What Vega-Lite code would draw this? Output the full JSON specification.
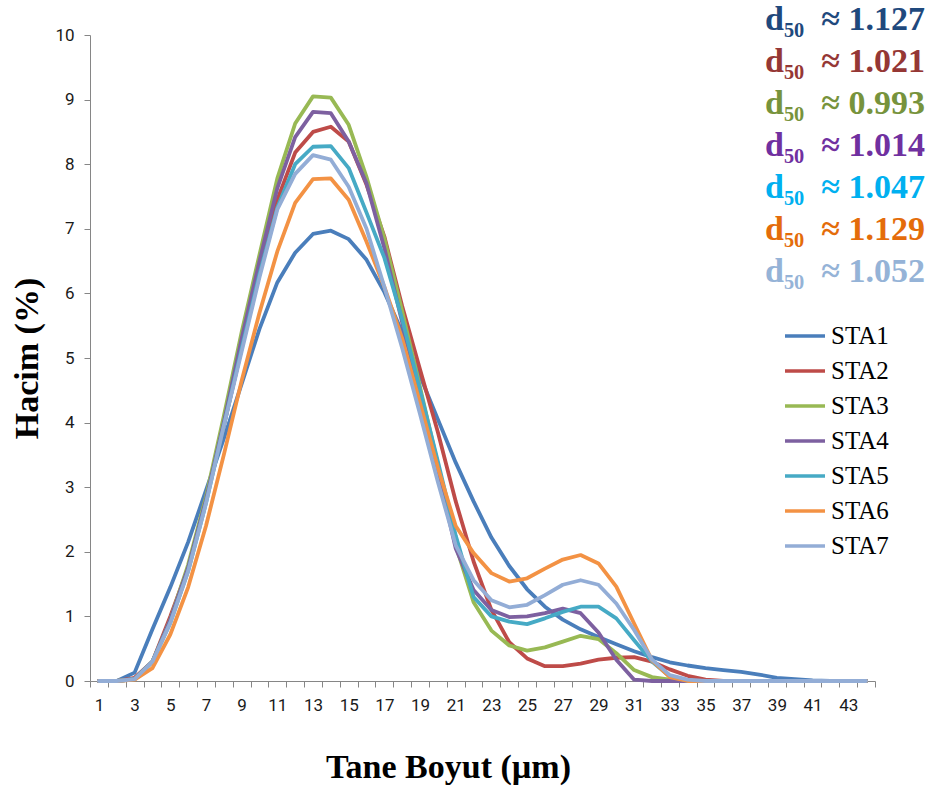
{
  "$schema": "https://vega.github.io/schema/vega-lite/v6.json",
  "width": 785,
  "height": 646,
  "autosize": {"type": "none"},
  "padding": {"left": 90, "top": 35, "right": 69, "bottom": 109},
  "background": "white",
  "config": {
    "view": {"stroke": null},
    "axis": {"grid": false, "domainColor": "#868686", "tickColor": "#868686", "domainWidth": 1, "tickWidth": 1}
  },
  "datasets": {
    "curves": [
      {"size": 1, "STA1": 0, "STA2": 0, "STA3": 0, "STA4": 0, "STA5": 0, "STA6": 0, "STA7": 0},
      {"size": 2, "STA1": 0, "STA2": 0, "STA3": 0, "STA4": 0, "STA5": 0, "STA6": 0, "STA7": 0},
      {"size": 3, "STA1": 0.13, "STA2": 0.05, "STA3": 0.03, "STA4": 0.03, "STA5": 0.03, "STA6": 0.02, "STA7": 0.03},
      {"size": 4, "STA1": 0.8, "STA2": 0.3, "STA3": 0.3, "STA4": 0.3, "STA5": 0.3, "STA6": 0.2, "STA7": 0.3},
      {"size": 5, "STA1": 1.45, "STA2": 1.0, "STA3": 0.95, "STA4": 0.95, "STA5": 0.9, "STA6": 0.72, "STA7": 0.9},
      {"size": 6, "STA1": 2.15, "STA2": 1.75, "STA3": 1.8, "STA4": 1.75, "STA5": 1.7, "STA6": 1.45, "STA7": 1.7},
      {"size": 7, "STA1": 2.95, "STA2": 2.8, "STA3": 2.85, "STA4": 2.8, "STA5": 2.75, "STA6": 2.4, "STA7": 2.75},
      {"size": 8, "STA1": 3.75, "STA2": 3.95, "STA3": 4.1, "STA4": 4.0, "STA5": 3.95, "STA6": 3.5, "STA7": 3.95},
      {"size": 9, "STA1": 4.6, "STA2": 5.15, "STA3": 5.4, "STA4": 5.3, "STA5": 5.15, "STA6": 4.65, "STA7": 5.1},
      {"size": 10, "STA1": 5.45, "STA2": 6.3, "STA3": 6.6, "STA4": 6.5, "STA5": 6.3, "STA6": 5.7, "STA7": 6.25},
      {"size": 11, "STA1": 6.17, "STA2": 7.45, "STA3": 7.78, "STA4": 7.63, "STA5": 7.33, "STA6": 6.65, "STA7": 7.3},
      {"size": 12, "STA1": 6.63, "STA2": 8.18, "STA3": 8.63, "STA4": 8.42, "STA5": 8.0, "STA6": 7.4, "STA7": 7.85},
      {"size": 13, "STA1": 6.92, "STA2": 8.5, "STA3": 9.05, "STA4": 8.81, "STA5": 8.27, "STA6": 7.77, "STA7": 8.14},
      {"size": 14, "STA1": 6.97, "STA2": 8.58, "STA3": 9.03, "STA4": 8.79, "STA5": 8.28, "STA6": 7.78, "STA7": 8.07},
      {"size": 15, "STA1": 6.84, "STA2": 8.35, "STA3": 8.61, "STA4": 8.35, "STA5": 7.94, "STA6": 7.45, "STA7": 7.65},
      {"size": 16, "STA1": 6.52, "STA2": 7.68, "STA3": 7.8, "STA4": 7.7, "STA5": 7.25, "STA6": 6.8, "STA7": 7.0},
      {"size": 17, "STA1": 6.02, "STA2": 6.88, "STA3": 6.85, "STA4": 6.7, "STA5": 6.55, "STA6": 6.1, "STA7": 6.1},
      {"size": 18, "STA1": 5.4, "STA2": 5.8, "STA3": 5.72, "STA4": 5.55, "STA5": 5.6, "STA6": 5.3, "STA7": 5.15},
      {"size": 19, "STA1": 4.72, "STA2": 4.82, "STA3": 4.55, "STA4": 4.4, "STA5": 4.5, "STA6": 4.3, "STA7": 4.13},
      {"size": 20, "STA1": 4.05, "STA2": 3.85, "STA3": 3.35, "STA4": 3.25, "STA5": 3.4, "STA6": 3.3, "STA7": 3.08},
      {"size": 21, "STA1": 3.38, "STA2": 2.78, "STA3": 2.1, "STA4": 2.05, "STA5": 2.25, "STA6": 2.4, "STA7": 2.1},
      {"size": 22, "STA1": 2.78, "STA2": 1.85, "STA3": 1.22, "STA4": 1.41, "STA5": 1.3, "STA6": 1.98, "STA7": 1.56},
      {"size": 23, "STA1": 2.22, "STA2": 1.1, "STA3": 0.78, "STA4": 1.1, "STA5": 1.0, "STA6": 1.67, "STA7": 1.25},
      {"size": 24, "STA1": 1.78, "STA2": 0.6, "STA3": 0.55, "STA4": 0.99, "STA5": 0.92, "STA6": 1.54, "STA7": 1.14},
      {"size": 25, "STA1": 1.42, "STA2": 0.35, "STA3": 0.47, "STA4": 1.0, "STA5": 0.88, "STA6": 1.59, "STA7": 1.18},
      {"size": 26, "STA1": 1.15, "STA2": 0.23, "STA3": 0.52, "STA4": 1.05, "STA5": 0.97, "STA6": 1.74, "STA7": 1.33},
      {"size": 27, "STA1": 0.95, "STA2": 0.23, "STA3": 0.61, "STA4": 1.12, "STA5": 1.07, "STA6": 1.88, "STA7": 1.49},
      {"size": 28, "STA1": 0.8, "STA2": 0.27, "STA3": 0.7, "STA4": 1.05, "STA5": 1.15, "STA6": 1.95, "STA7": 1.56},
      {"size": 29, "STA1": 0.68, "STA2": 0.33, "STA3": 0.65, "STA4": 0.75, "STA5": 1.15, "STA6": 1.82, "STA7": 1.49},
      {"size": 30, "STA1": 0.57, "STA2": 0.36, "STA3": 0.43, "STA4": 0.33, "STA5": 0.97, "STA6": 1.46, "STA7": 1.2},
      {"size": 31, "STA1": 0.46, "STA2": 0.37, "STA3": 0.17, "STA4": 0.02, "STA5": 0.63, "STA6": 0.89, "STA7": 0.79},
      {"size": 32, "STA1": 0.37, "STA2": 0.3, "STA3": 0.06, "STA4": 0, "STA5": 0.3, "STA6": 0.32, "STA7": 0.33},
      {"size": 33, "STA1": 0.29, "STA2": 0.18, "STA3": 0.02, "STA4": 0, "STA5": 0.07, "STA6": 0.06, "STA7": 0.09},
      {"size": 34, "STA1": 0.24, "STA2": 0.08, "STA3": 0, "STA4": 0, "STA5": 0, "STA6": 0, "STA7": 0.02},
      {"size": 35, "STA1": 0.2, "STA2": 0.02, "STA3": 0, "STA4": 0, "STA5": 0, "STA6": 0, "STA7": 0},
      {"size": 36, "STA1": 0.17, "STA2": 0, "STA3": 0, "STA4": 0, "STA5": 0, "STA6": 0, "STA7": 0},
      {"size": 37, "STA1": 0.14, "STA2": 0, "STA3": 0, "STA4": 0, "STA5": 0, "STA6": 0, "STA7": 0},
      {"size": 38, "STA1": 0.1, "STA2": 0, "STA3": 0, "STA4": 0, "STA5": 0, "STA6": 0, "STA7": 0},
      {"size": 39, "STA1": 0.05, "STA2": 0, "STA3": 0, "STA4": 0, "STA5": 0, "STA6": 0, "STA7": 0},
      {"size": 40, "STA1": 0.03, "STA2": 0, "STA3": 0, "STA4": 0, "STA5": 0, "STA6": 0, "STA7": 0},
      {"size": 41, "STA1": 0.01, "STA2": 0, "STA3": 0, "STA4": 0, "STA5": 0, "STA6": 0, "STA7": 0},
      {"size": 42, "STA1": 0, "STA2": 0, "STA3": 0, "STA4": 0, "STA5": 0, "STA6": 0, "STA7": 0},
      {"size": 43, "STA1": 0, "STA2": 0, "STA3": 0, "STA4": 0, "STA5": 0, "STA6": 0, "STA7": 0},
      {"size": 44, "STA1": 0, "STA2": 0, "STA3": 0, "STA4": 0, "STA5": 0, "STA6": 0, "STA7": 0}
    ],
    "d50": [
      {"series": "STA1", "label": "d₅₀\u00a0 ≈ 1.127"},
      {"series": "STA2", "label": "d₅₀\u00a0 ≈ 1.021"},
      {"series": "STA3", "label": "d₅₀\u00a0 ≈ 0.993"},
      {"series": "STA4", "label": "d₅₀\u00a0 ≈ 1.014"},
      {"series": "STA5", "label": "d₅₀\u00a0 ≈ 1.047"},
      {"series": "STA6", "label": "d₅₀\u00a0 ≈ 1.129"},
      {"series": "STA7", "label": "d₅₀\u00a0 ≈ 1.052"}
    ]
  },
  "layer": [
    {
      "data": {"name": "curves"},
      "transform": [
        {"fold": ["STA1", "STA2", "STA3", "STA4", "STA5", "STA6", "STA7"], "as": ["series", "hacim"]}
      ],
      "mark": {"type": "line", "strokeWidth": 3.8, "strokeJoin": "round", "strokeCap": "round"},
      "encoding": {
        "x": {
          "field": "size", "type": "ordinal",
          "scale": {"type": "band", "paddingInner": 0, "paddingOuter": 0},
          "axis": {
            "title": "Tane Boyut (µm)",
            "titleFont": "Liberation Serif", "titleFontSize": 34, "titleFontWeight": "bold", "titleColor": "black",
            "titlePadding": 37, "titleX": 358, "titleAnchor": "middle",
            "labelAngle": 0, "labelOverlap": false,
            "labelExpr": "datum.value % 2 == 1 ? datum.label : ''",
            "labelFont": "Roboto", "labelFontSize": 17, "labelColor": "#1a1a1a",
            "labelPadding": 10,
            "tickBand": "extent", "tickSize": 6
          }
        },
        "y": {
          "field": "hacim", "type": "quantitative",
          "scale": {"domain": [0, 10], "nice": false},
          "axis": {
            "title": "Hacim (%)",
            "titleFont": "Liberation Serif", "titleFontSize": 34, "titleFontWeight": "bold", "titleColor": "black",
            "titlePadding": 10,
            "values": [0, 1, 2, 3, 4, 5, 6, 7, 8, 9, 10],
            "labelFont": "Roboto", "labelFontSize": 17, "labelColor": "#1a1a1a",
            "labelPadding": 10, "tickSize": 6
          }
        },
        "color": {
          "field": "series", "type": "nominal",
          "scale": {
            "domain": ["STA1", "STA2", "STA3", "STA4", "STA5", "STA6", "STA7"],
            "range": ["#4A7EBB", "#BE4B48", "#98B954", "#7D60A0", "#46AAC5", "#F39244", "#93ADD6"]
          },
          "legend": {
            "orient": "none", "legendX": 693, "legendY": 279, "title": null, "padding": 0,
            "labelFont": "Liberation Serif", "labelFontSize": 25, "labelColor": "black",
            "symbolType": "stroke", "symbolSize": 1600, "symbolStrokeWidth": 3.5,
            "labelOffset": 4, "rowPadding": -4.8
          }
        }
      }
    },
    {
      "data": {"name": "d50"},
      "mark": {"type": "point", "opacity": 0, "size": 0},
      "encoding": {
        "fill": {
          "field": "label", "type": "nominal", "sort": null,
          "scale": {"range": ["#1F497D", "#953735", "#77933C", "#7030A0", "#00B0F0", "#E46C0A", "#95B3D7"]},
          "legend": {
            "orient": "none", "legendX": 641, "legendY": -32, "title": null, "padding": 0,
            "labelFont": "Liberation Serif", "labelFontSize": 34, "labelFontWeight": "bold", "labelLimit": 400,
            "labelColor": {"expr": "scale('fill', datum.value)"},
            "symbolSize": 0, "symbolOpacity": 0, "symbolStrokeWidth": 0, "labelOffset": 0, "rowPadding": 8
          }
        }
      }
    }
  ]
}
